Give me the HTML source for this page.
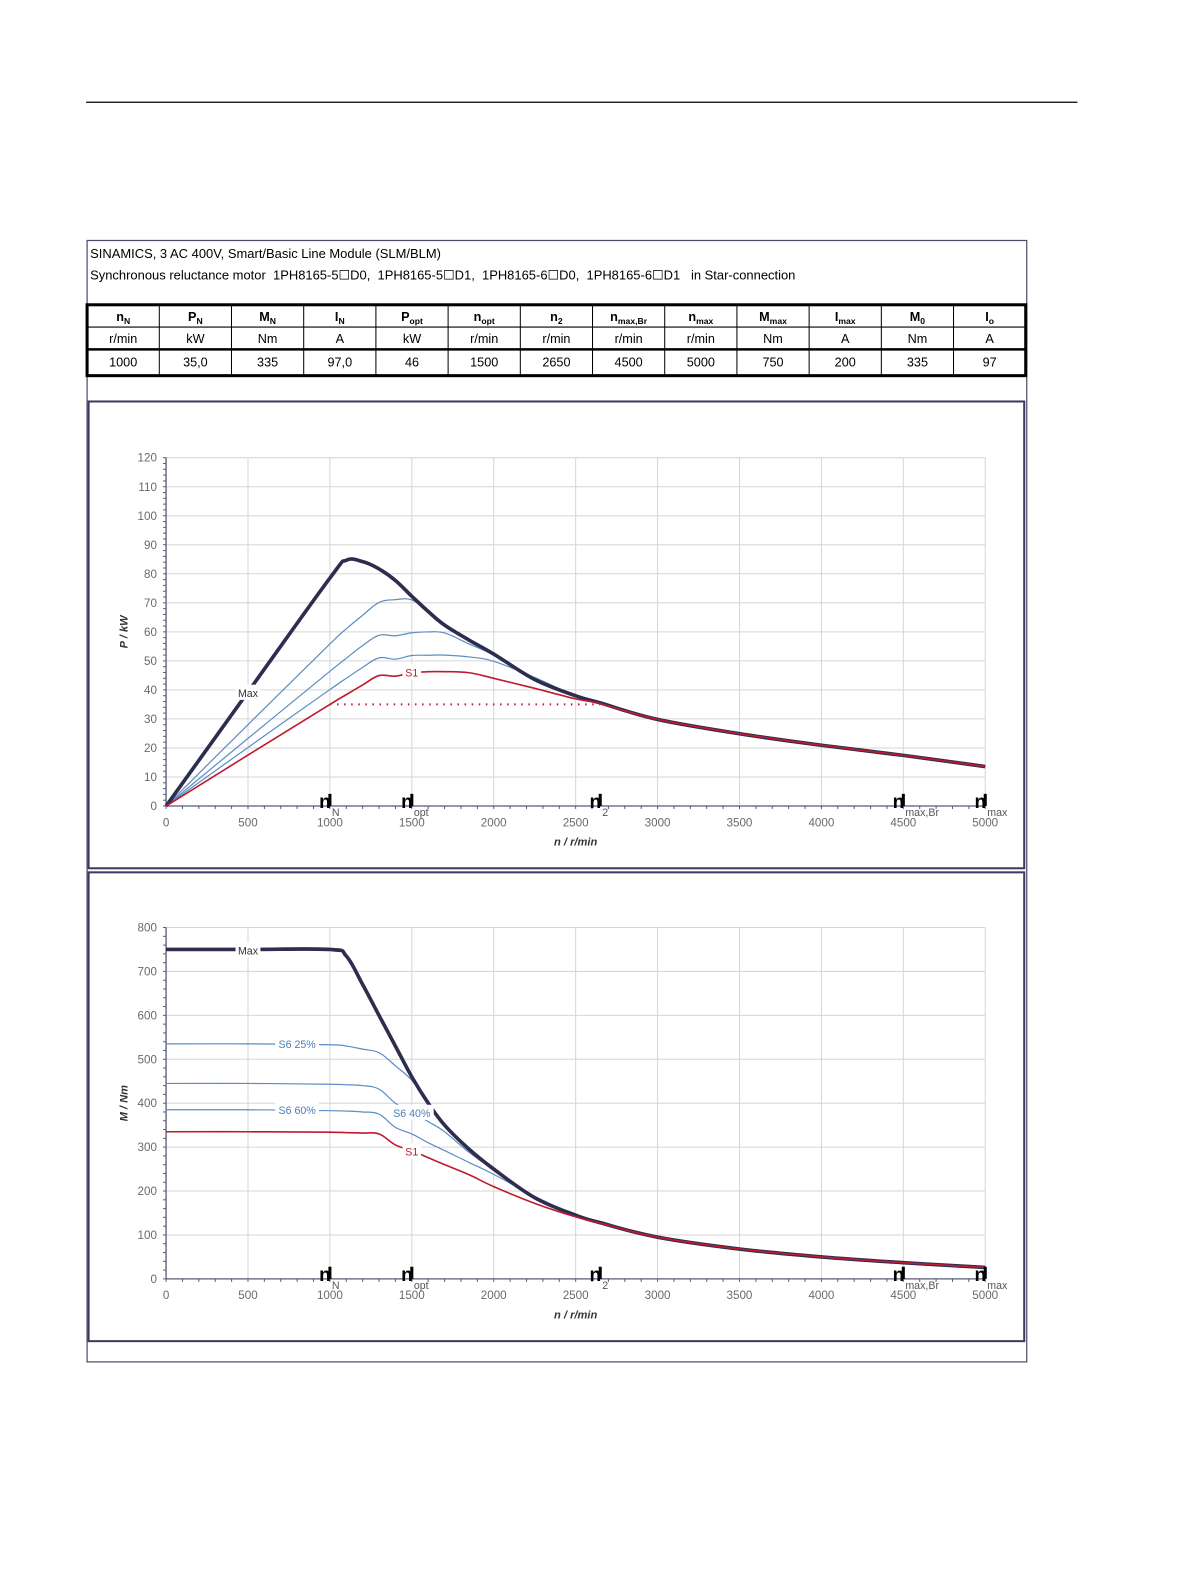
<!DOCTYPE html>
<html><head><meta charset="utf-8"><style>
html,body{margin:0;padding:0;background:#fff;}
svg{display:block;font-family:"Liberation Sans",sans-serif;}
</style></head><body>
<svg id="page" width="1191" height="1587" viewBox="0 0 1176.2 1567.3" xmlns="http://www.w3.org/2000/svg">
<line x1="85" y1="101" x2="1064" y2="101" stroke="#000" stroke-width="1.2"/>
<rect x="86" y="237.5" width="928" height="1107.5" fill="none" stroke="#4a4a6a" stroke-width="1.2"/>
<text x="89" y="255" font-size="12.8">SINAMICS, 3 AC 400V, Smart/Basic Line Module (SLM/BLM)</text>
<text x="89" y="276" font-size="12.8" style='white-space:pre;font-family:"Liberation Sans","Noto Sans CJK SC",sans-serif' xml:space="preserve">Synchronous reluctance motor  1PH8165-5☐D0,  1PH8165-5☐D1,  1PH8165-6☐D0,  1PH8165-6☐D1   in Star-connection</text>
<g id="table"></g>
<rect x="87.5" y="396.5" width="924" height="461" fill="none" stroke="#3b3b5e" stroke-width="2"/>
<rect x="87.5" y="861.5" width="924" height="463" fill="none" stroke="#3b3b5e" stroke-width="2"/>
<g id="pchart"></g>
<g id="mchart"></g>
</svg>
<script>
// ---- table data
const headMain=["n","P","M","I","P","n","n","n","n","M","I","M","I"];
const headSub=["N","N","N","N","opt","opt","2","max,Br","max","max","max","0","o"];
const units=["r/min","kW","Nm","A","kW","r/min","r/min","r/min","r/min","Nm","A","Nm","A"];
const values=["1000","35,0","335","97,0","46","1500","2650","4500","5000","750","200","335","97"];

// ---- chart data
const speeds=[0,500,1000,1100,1200,1300,1400,1500,1600,1700,1850,2000,2250,2500,2650,3000,3500,4000,4500,5000];
const torqueMax=[750,750,750,735,670,600,530,460,400,350,295,250,185,145,128,95,68,50,37,26];
const torqueS6_25=[535,535,533,530,523,515,485,452,400,350,295,250,185,145,128,95,68,50,37,26];
const torqueS6_40=[445,445,443,442,440,432,400,380,358,335,288,248,185,145,128,95,68,50,37,26];
const torqueS6_60=[385,385,383,382,380,375,345,330,310,292,265,238,188,145,128,95,68,50,37,26];
const torqueS1=[335,335,334,333,332,330,305,292,276,260,237,210,172,141,127,95,68,50,37,26];
const xTicks=[0,500,1000,1500,2000,2500,3000,3500,4000,4500,5000];
const pTicks=[0,10,20,30,40,50,60,70,80,90,100,110,120];
const mTicks=[0,100,200,300,400,500,600,700,800];
const markers=[{n:1000,sub:"N"},{n:1500,sub:"opt"},{n:2650,sub:"2"},{n:4500,sub:"max,Br"},{n:5000,sub:"max"}];
const ratedPower=35, ratedSpeed=1000, n2Speed=2650;

const NS="http://www.w3.org/2000/svg";
function mk(parent,tag,attrs,text){const e=document.createElementNS(NS,tag);for(const k in attrs)e.setAttribute(k,attrs[k]);if(text!==undefined)e.textContent=text;parent.appendChild(e);return e;}

// table
(function(){
  const g=document.getElementById('table');
  const L=86,R=1013,T=301;const cw=(R-L)/13;
  for(let i=0;i<13;i++){
    const cx=L+cw*i+cw/2;
    const h=mk(g,'text',{x:cx,y:317,'font-size':12.5,'font-weight':'bold','text-anchor':'middle'});
    
    
    const t1=document.createElementNS(NS,'tspan');t1.textContent=headMain[i];h.appendChild(t1);
    const t2=document.createElementNS(NS,'tspan');t2.textContent=headSub[i];t2.setAttribute('font-size','8.5');t2.setAttribute('dy','3');h.appendChild(t2);
    const u=mk(g,'text',{x:cx,y:338.5,'font-size':12.5,'text-anchor':'middle'},units[i]);
    
    
    const v=mk(g,'text',{x:cx,y:362,'font-size':12.5,'text-anchor':'middle'},values[i]);
    
    
    if(i>0)mk(g,'line',{x1:L+cw*i,y1:T,x2:L+cw*i,y2:371,stroke:'#000','stroke-width':1});
  }
  mk(g,'rect',{x:L,y:T,width:R-L,height:371-T,fill:'none',stroke:'#000','stroke-width':3});
  mk(g,'line',{x1:L,y1:323,x2:R,y2:323,stroke:'#000','stroke-width':1});
  mk(g,'line',{x1:L,y1:345,x2:R,y2:345,stroke:'#000','stroke-width':2.5});
})();

function smoothPath(pts){
  let d='M'+pts[0][0].toFixed(1)+','+pts[0][1].toFixed(1);
  for(let i=0;i<pts.length-1;i++){
    const p0=pts[Math.max(i-1,0)],p1=pts[i],p2=pts[i+1],p3=pts[Math.min(i+2,pts.length-1)];
    if(i===1&&false){}
    const t=0.18;
    const c1=[p1[0]+(p2[0]-p0[0])*t,p1[1]+(p2[1]-p0[1])*t];
    const c2=[p2[0]-(p3[0]-p1[0])*t,p2[1]-(p3[1]-p1[1])*t];
    d+='C'+c1[0].toFixed(1)+','+c1[1].toFixed(1)+' '+c2[0].toFixed(1)+','+c2[1].toFixed(1)+' '+p2[0].toFixed(1)+','+p2[1].toFixed(1);
  }
  return d;
}

function chart(id,y0,yTop,vmax,ticks,minorStep,yTitle,series,labels,extra){
  const g=document.getElementById(id);
  const X0=164,X1=973;
  const xS=n=>X0+(X1-X0)*n/5000;
  const yS=v=>y0-(y0-yTop)*v/vmax;
  xTicks.forEach(t=>{if(t>0)mk(g,'line',{x1:xS(t),y1:yTop,x2:xS(t),y2:y0,stroke:'#d6d6d6','stroke-width':1});});
  ticks.forEach(t=>{if(t>0)mk(g,'line',{x1:X0,y1:yS(t),x2:X1,y2:yS(t),stroke:'#d6d6d6','stroke-width':1});});
  mk(g,'line',{x1:X0,y1:yTop,x2:X0,y2:y0,stroke:'#5a5a7a','stroke-width':1.3});
  mk(g,'line',{x1:X0,y1:y0,x2:X1,y2:y0,stroke:'#5a5a7a','stroke-width':1.3});
  for(let v=0;v<=vmax+1e-9;v+=minorStep)mk(g,'line',{x1:X0-3,y1:yS(v),x2:X0,y2:yS(v),stroke:'#5a5a7a','stroke-width':1});
  for(let n=0;n<=5000;n+=100)mk(g,'line',{x1:xS(n),y1:y0,x2:xS(n),y2:y0+3,stroke:'#5a5a7a','stroke-width':1});
  ticks.forEach(t=>{const e=mk(g,'text',{x:X0-9,y:yS(t)+4,'font-size':11.5,fill:'#6a6a6a','text-anchor':'end'},String(t));
    
    });
  xTicks.forEach(t=>{const e=mk(g,'text',{x:xS(t),y:y0+20,'font-size':11.5,fill:'#6a6a6a','text-anchor':'middle'},String(t));
    
    });
  const yt=mk(g,'text',{x:0,y:0,'font-size':11,'font-weight':'bold','font-style':'italic',fill:'#333','text-anchor':'middle',transform:`translate(126,${(y0+yTop)/2}) rotate(-90)`},yTitle);
  
  
  const xt=mk(g,'text',{x:(X0+X1)/2,y:y0+39,'font-size':11,'font-weight':'bold','font-style':'italic',fill:'#333','text-anchor':'middle'},'n / r/min');
  
  
  if(extra)extra(g,xS,yS);
  series.forEach(s=>{
    const pts=speeds.map((n,i)=>[xS(n),yS(s.f(s.data[i],n))]);
    const p=mk(g,'path',{d:smoothPath(pts),fill:'none',stroke:s.c,'stroke-width':s.w,'stroke-linejoin':'round'});
    
    
  });
  labels.forEach(l=>{
    const tw=l.t.length*6.2+6;
    mk(g,'rect',{x:xS(l.n)-tw/2,y:yS(l.v)-8,width:tw,height:15,fill:'#fff'});
    const e=mk(g,'text',{x:xS(l.n),y:yS(l.v)+4,'font-size':10.5,fill:l.c,'text-anchor':'middle'},l.t);
    
    
  });
  markers.forEach(m=>{
    const x=xS(m.n);
    mk(g,'rect',{x:x-1.5,y:y0-12,width:3,height:12,fill:'#000'});
    const t=mk(g,'text',{x:x+1,y:y0+2,'font-size':19,'font-weight':'bold','text-anchor':'end'},'n');
    
    
    mk(g,'text',{x:x+2,y:y0+10,'font-size':10.5,fill:'#555'},m.sub);
  });
}
const toP=(m,n)=>m*n/9550;
const toM=(m)=>m;
function seriesList(f){return [
  {name:'s6-60-curve',data:torqueS6_60,c:'#5b8ec4',w:1.2,f:f},
  {name:'s6-40-curve',data:torqueS6_40,c:'#5b8ec4',w:1.2,f:f},
  {name:'s6-25-curve',data:torqueS6_25,c:'#5b8ec4',w:1.2,f:f},
  {name:'max-curve',data:torqueMax,c:'#2e2d4f',w:3.6,f:f},
  {name:'s1-curve',data:torqueS1,c:'#c01a2e',w:1.6,f:f}];}
chart('pchart',796,452,120,pTicks,2,'P / kW',seriesList(toP),
  [{n:500,v:39,t:'Max',c:'#333'},{n:1500,v:46,t:'S1',c:'#c01a2e'}],
  (g,xS,yS)=>{const l=mk(g,'line',{x1:xS(ratedSpeed),y1:yS(ratedPower),x2:xS(n2Speed),y2:yS(ratedPower),stroke:'#c01a2e','stroke-width':2,'stroke-dasharray':'1.5 5.5'});
    
    });
chart('mchart',1263,916,800,mTicks,20,'M / Nm',seriesList(toM),
  [{n:500,v:748,t:'Max',c:'#333'},{n:800,v:535,t:'S6 25%',c:'#4a7fb8'},{n:800,v:385,t:'S6 60%',c:'#4a7fb8'},{n:1500,v:378,t:'S6 40%',c:'#4a7fb8'},{n:1500,v:290,t:'S1',c:'#c01a2e'}]);
</script>
</body></html>
